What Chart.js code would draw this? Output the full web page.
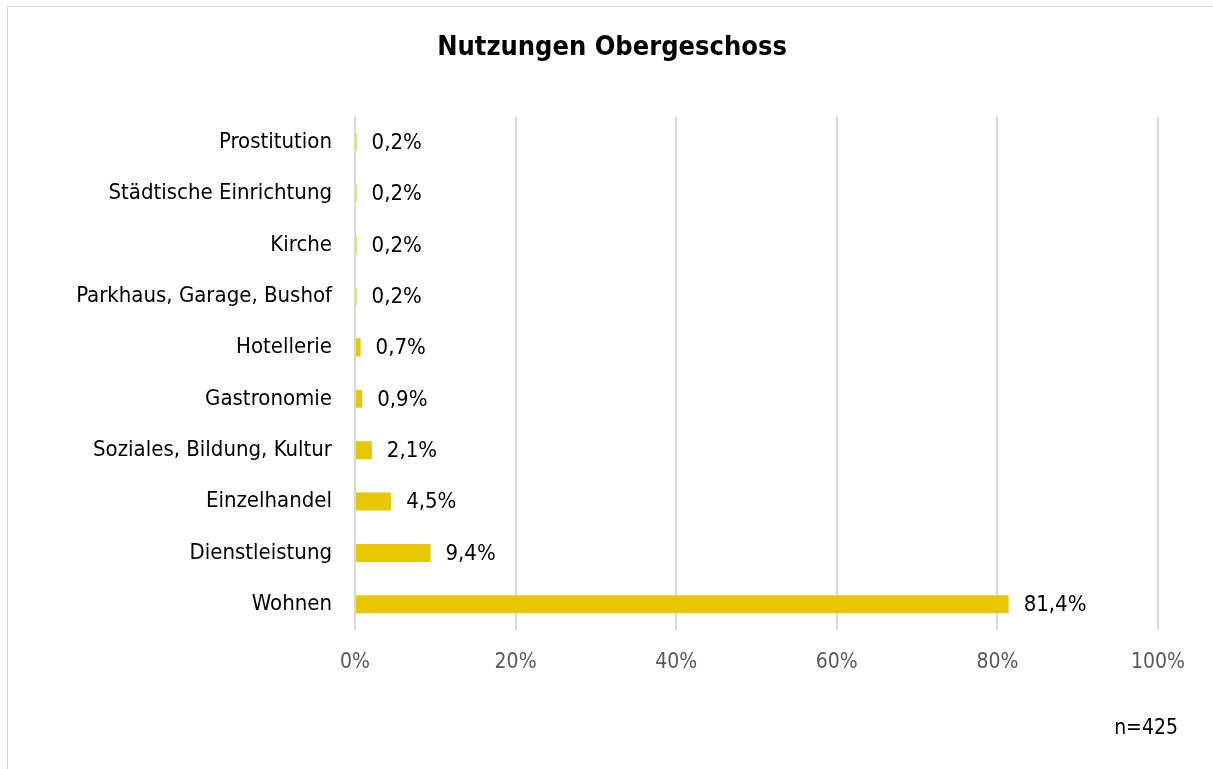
<!DOCTYPE html>
<html><head><meta charset="utf-8">
<script src="https://cdn.jsdelivr.net/npm/chart.js@4/dist/chart.umd.min.js"></script>
<style>html,body{margin:0;padding:0;background:#fff}#wrap{width:1213px;height:769px;position:relative}</style>
</head><body><div id="wrap"><canvas id="c" width="1213" height="769"></canvas></div>
<script>
const categories = ["Prostitution","Städtische Einrichtung","Kirche","Parkhaus, Garage, Bushof","Hotellerie","Gastronomie","Soziales, Bildung, Kultur","Einzelhandel","Dienstleistung","Wohnen"];
const shares = [0.2,0.2,0.2,0.2,0.7,0.9,2.1,4.5,9.4,81.4];
const xTicks = [0,20,40,60,80,100];
const sampleNote = "n=425";
const titleText = "Nutzungen Obergeschoss";

const FONT = "'Liberation Sans Narrow','DejaVu Sans Condensed','Arial Narrow',sans-serif";

const extras = {
  id:'extras',
  beforeDraw(chart){
    const ctx=chart.ctx;
    ctx.save();
    ctx.fillStyle='#fff';ctx.fillRect(0,0,chart.width,chart.height);
    ctx.strokeStyle='#d9d9d9';ctx.lineWidth=1;
    ctx.strokeRect(7.5,6.5,1400,1000);
    ctx.restore();
  },
  afterDatasetsDraw(chart){
    const ctx=chart.ctx;
    const meta=chart.getDatasetMeta(0);
    ctx.save();
    ctx.font="22px "+FONT;
    ctx.fillStyle='#000';
    ctx.textBaseline='middle';
    ctx.textAlign='left';
    meta.data.forEach((bar,i)=>{
      ctx.fillText(shares[i].toFixed(1).replace('.',',')+'%', bar.x+15, bar.y+1);
    });
    ctx.textAlign='right';
    ctx.font="21px "+FONT;
    ctx.fillText(sampleNote, 1178, 729);
    ctx.restore();
  }
};

new Chart(document.getElementById('c'),{
  type:'bar',
  data:{labels:categories,datasets:[{data:shares,backgroundColor:'#E6C700',barPercentage:0.35,categoryPercentage:1}]},
  options:{
    indexAxis:'y',responsive:false,animation:false,
    layout:{padding:{left:66,right:55,top:0,bottom:0}},
    plugins:{legend:{display:false},tooltip:{enabled:false},
      title:{display:true,text:titleText,color:'#000',font:{family:FONT,size:27,weight:'bold'},padding:{top:32,bottom:52}}},
    scales:{
      x:{min:0,max:100,afterBuildTicks(s){s.ticks=xTicks.map(v=>({value:v}));},
        grid:{color:'#d9d9d9',lineWidth:2,drawTicks:false},border:{display:false},
        ticks:{padding:20,color:'#595959',font:{family:FONT,size:21},callback:v=>v+'%'},
        afterFit(s){s.height=139;}},
      y:{grid:{display:false,drawTicks:false},border:{display:false},
        ticks:{padding:23,color:'#000',font:{family:FONT,size:22}},
        afterFit(s){s.width=289;}}
    }
  },
  plugins:[extras]
});
</script></body></html>
